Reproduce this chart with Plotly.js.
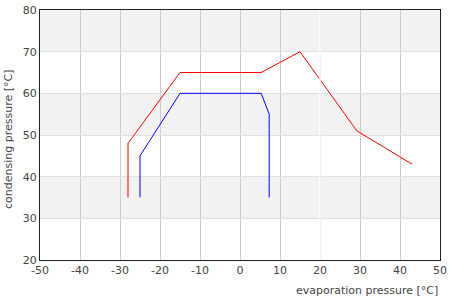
<!DOCTYPE html>
<html>
<head>
<meta charset="utf-8">
<script src="https://cdn.plot.ly/plotly-3.0.1.min.js"></script>
<style>html,body{margin:0;padding:0;background:#fff;}#chart{width:450px;height:300px;}</style>
</head>
<body>
<div id="chart"></div>
<script>
// Red envelope
const redX = [-28, -28, -15, 5.3, 15, 29.2, 43];
const redY = [35, 48, 65, 65, 70, 51, 43];
// Blue envelope
const blueX = [-25, -25, -15, 5.3, 7.3, 7.3];
const blueY = [35, 45, 60, 60, 55, 35];
// Axis ticks
const xTicks = [-50, -40, -30, -20, -10, 0, 10, 20, 30, 40, 50];
const yTicks = [20, 30, 40, 50, 60, 70, 80];
// Shaded horizontal bands [from, to]
const bands = [[30, 40], [50, 60], [70, 80]];

const shapes = bands.map(b => ({
  type: 'rect', xref: 'paper', yref: 'y', x0: 0, x1: 1, y0: b[0], y1: b[1],
  fillcolor: '#f2f2f2', line: {width: 0}, layer: 'below'
}));
shapes.push({type: 'line', xref: 'x', yref: 'paper', x0: 20, x1: 20, y0: 0, y1: 1,
  line: {color: '#ffffff', width: 1.5}, layer: 'above'});

const traces = [
  {x: redX, y: redY, type: 'scatter', mode: 'lines', line: {color: '#ff0000', width: 1}, hoverinfo: 'none'},
  {x: blueX, y: blueY, type: 'scatter', mode: 'lines', line: {color: '#0000ff', width: 1}, hoverinfo: 'none'}
];

const font = {family: 'DejaVu Sans, sans-serif', size: 11, color: '#444'};

const layout = {
  width: 450, height: 300,
  margin: {l: 40, r: 10, t: 10, b: 40},
  paper_bgcolor: '#ffffff', plot_bgcolor: '#ffffff',
  showlegend: false,
  font: font,
  xaxis: {
    range: [-50, 50], tickvals: xTicks, ticktext: xTicks.map(String),
    showgrid: true, gridcolor: '#cccccc', gridwidth: 1,
    zeroline: false, showline: true, linecolor: '#222', linewidth: 1, mirror: true,
    ticks: '', tickfont: font, fixedrange: true
  },
  yaxis: {
    range: [20, 80], tickvals: yTicks, ticktext: yTicks.map(String),
    showgrid: true, gridcolor: '#e0e0e0', gridwidth: 1,
    zeroline: false, showline: true, linecolor: '#222', linewidth: 1, mirror: true,
    ticks: '', tickfont: font, fixedrange: true
  },
  shapes: shapes,
  annotations: [
    {text: 'evaporation pressure [°C]', xref: 'paper', yref: 'paper', x: 1, y: -0.12,
     xanchor: 'right', yanchor: 'middle', showarrow: false, font: font},
    {text: 'condensing pressure [°C]', xref: 'paper', yref: 'paper', x: -0.08, y: 0.48,
     xanchor: 'center', yanchor: 'middle', textangle: -90, showarrow: false, font: font}
  ]
};

Plotly.newPlot('chart', traces, layout, {displayModeBar: false, staticPlot: true});
</script>
</body>
</html>
